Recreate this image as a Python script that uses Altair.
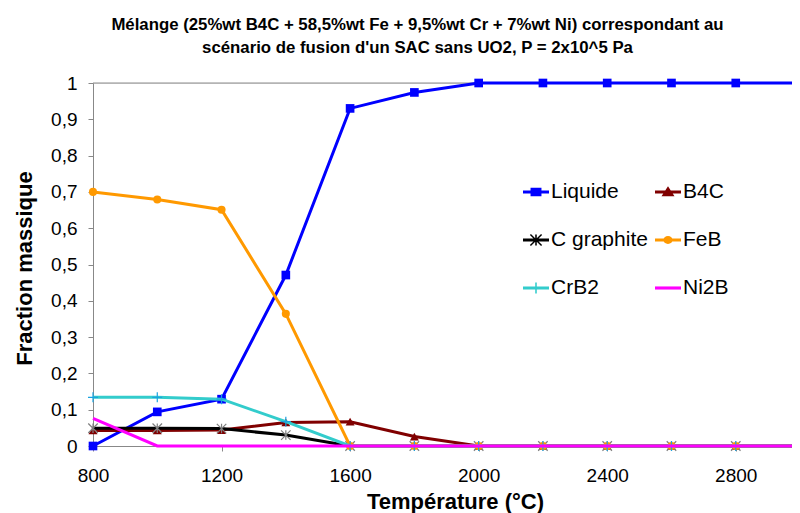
import altair as alt
import pandas as pd

# ---------------- data ----------------
temperatures = [800, 1000, 1200, 1400, 1600, 1800, 2000, 2200, 2400, 2600, 2800, 3000]
liquide = [0.0, 0.094, 0.129, 0.471, 0.930, 0.974, 1.0, 1.0, 1.0, 1.0, 1.0, 1.0]
b4c = [0.043, 0.043, 0.044, 0.065, 0.067, 0.026, 0.0, 0.0, 0.0, 0.0, 0.0, 0.0]
c_graphite = [0.049, 0.049, 0.048, 0.030, 0.0, 0.0, 0.0, 0.0, 0.0, 0.0, 0.0, 0.0]
feb = [0.700, 0.679, 0.651, 0.364, 0.0, 0.0, 0.0, 0.0, 0.0, 0.0, 0.0, 0.0]
crb2 = [0.134, 0.134, 0.129, 0.067, 0.0, 0.0, 0.0, 0.0, 0.0, 0.0, 0.0, 0.0]
ni2b = [0.076, 0.0, 0.0, 0.0, 0.0, 0.0, 0.0, 0.0, 0.0, 0.0, 0.0, 0.0]

series_names = ["Liquide", "B4C", "C graphite", "FeB", "CrB2", "Ni2B"]
series_values = [liquide, b4c, c_graphite, feb, crb2, ni2b]
line_colors = ["#0000FF", "#800000", "#000000", "#FF9900", "#33CCCC", "#FF00FF"]

x_ticks = [800, 1200, 1600, 2000, 2400, 2800]
x_domain = [800, 2975]   # the reference plot is cut at the right edge, just before 3000
y_ticks = [0, 0.1, 0.2, 0.3, 0.4, 0.5, 0.6, 0.7, 0.8, 0.9, 1.0]
top_line = [1.0]

title_lines = [
    "Mélange (25%wt B4C + 58,5%wt Fe + 9,5%wt Cr + 7%wt Ni)  correspondant au",
    "scénario de fusion d'un SAC sans UO2, P = 2x10^5 Pa",
]

rows = []
for name, vals in zip(series_names, series_values):
    for t, v in zip(temperatures, vals):
        rows.append({"series": name, "T": t, "v": v})
df = pd.DataFrame(rows)

FONT = "Liberation Sans"

color_scale = alt.Scale(domain=series_names, range=line_colors)
x_enc = alt.X("T:Q", scale=alt.Scale(domain=x_domain, nice=False, zero=False),
              axis=alt.Axis(values=x_ticks, title="Température (°C)", grid=False, format="d",
                            labelFontSize=19, tickSize=5, labelPadding=15, labelFlush=False,
                            labelOverlap=False,
                            titleFontSize=22, titleFontWeight="bold",
                            titleX=362, titleY=62, titleBaseline="alphabetic",
                            titleAlign="center"))
y_enc = alt.Y("v:Q", scale=alt.Scale(domain=[0, 1], nice=False),
              axis=alt.Axis(values=y_ticks, title="Fraction massique", grid=False,
                            labelExpr="replace(format(datum.value, '.1~f'), '.', ',')",
                            labelFontSize=19, tickSize=5, labelPadding=11, labelFlush=False,
                            labelOverlap=False,
                            titleFontSize=22, titleFontWeight="bold",
                            titleX=-62, titleY=185, titleBaseline="alphabetic",
                            titleAlign="center", titleAngle=-90))

base = alt.Chart(df)

# top reference line at 1
top_rule = alt.Chart(pd.DataFrame({"v": top_line})).mark_rule(color="#8c8c8c", strokeWidth=1).encode(
    y=y_enc
)

ASTERISK = "M-1,-1L1,1M-1,1L1,-1M0,-1L0,1"
PLUS = "M-1,0L1,0M0,-1L0,1"

marker_specs = {
    "Liquide": dict(shape="square", filled=True, size=75, color="#0000FF"),
    "B4C": dict(shape="triangle-up", filled=True, size=80, color="#800000"),
    "C graphite": dict(shape=ASTERISK, filled=False, size=90, color="#7f7f7f"),
    "FeB": dict(shape="circle", filled=True, size=65, color="#FF9900"),
    "CrB2": dict(shape=PLUS, filled=False, size=100, color="#1aa3e0"),
}

layers = [top_rule]
for name, col in zip(series_names, line_colors):
    sub = base.transform_filter(alt.datum.series == name)
    layers.append(sub.mark_line(strokeWidth=3, color=col).encode(x=x_enc, y=y_enc))
    if name in marker_specs:
        m = marker_specs[name]
        layers.append(sub.mark_point(shape=m["shape"], filled=m["filled"], size=m["size"],
                                     opacity=1, strokeWidth=1.2, color=m["color"]).encode(
            x=x_enc, y=y_enc))

# legend symbols: line segment + marker (custom paths)
BAR = "M-1,-0.12L1,-0.12L1,0.12L-1,0.12Z"
legend_paths = [
    BAR + "M-0.42,-0.32L0.42,-0.32L0.42,0.32L-0.42,0.32Z",
    BAR + "M0,-0.45L0.5,0.32L-0.5,0.32Z",
    BAR + "M-0.06,-0.42L0.06,-0.42L0.06,0.42L-0.06,0.42Z"
          "M-0.39,-0.47L0.47,0.39L0.39,0.47L-0.47,-0.39Z"
          "M-0.39,0.47L-0.47,0.39L0.39,-0.47L0.47,-0.39Z",
    BAR + "M-0.36,0A0.36,0.3,0,1,1,0.36,0A0.36,0.3,0,1,1,-0.36,0Z",
    BAR + "M-0.06,-0.42L0.06,-0.42L0.06,0.42L-0.06,0.42Z",
    BAR,
]
leg = alt.Legend(title=None, orient="none", legendX=430, legendY=96, direction="horizontal",
                 columns=2, columnPadding=7, rowPadding=25, labelFont=FONT, labelFontSize=21,
                 labelColor="#000000", labelOffset=2, symbolSize=676, symbolStrokeWidth=0,
                 symbolOpacity=1, padding=0)
legend_layer = base.transform_filter("false").mark_point(filled=True, opacity=1, size=676).encode(
    x=x_enc, y=y_enc,
    color=alt.Color("series:N", scale=color_scale, legend=leg),
    shape=alt.Shape("series:N", scale=alt.Scale(domain=series_names, range=legend_paths), legend=leg),
)
layers.append(legend_layer)

chart = alt.layer(*layers).properties(
    width=699, height=363,
    padding={"left": 85, "top": 75, "right": 0, "bottom": 67},
    autosize=alt.AutoSizeParams(type="none"),
    title=alt.TitleParams(text=title_lines, font=FONT,
                          fontSize=16.8, fontWeight="bold", color="#000000",
                          anchor="middle", frame="group", dx=-25, offset=0,
                          lineHeight=23, baseline="bottom"),
).configure_view(stroke=None).configure_axis(
    domainColor="#868686", tickColor="#868686", labelColor="#000000", titleColor="#000000",
    labelFont=FONT, titleFont=FONT,
).configure(background="white")

chart.save("out.html", embed_options={"renderer": "svg", "actions": False})
